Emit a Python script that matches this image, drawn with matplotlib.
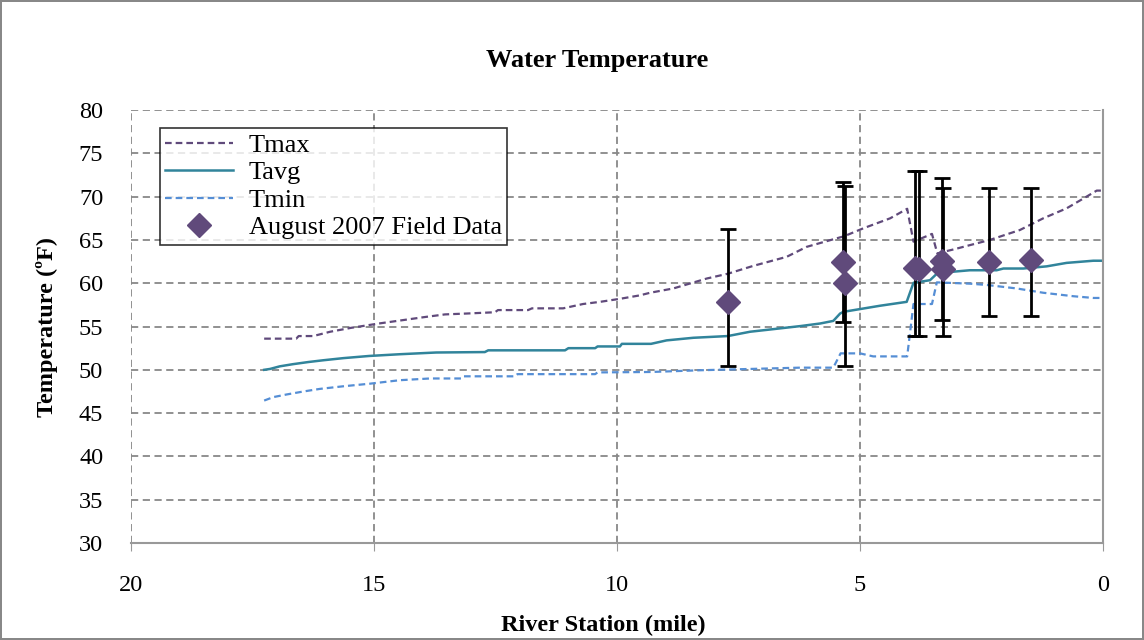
import numpy as np
import matplotlib.pyplot as plt

plt.rcParams['font.family'] = ['Liberation Serif', 'DejaVu Serif']

# model profiles: river station (mile) vs temperature (F)
tmax_mile = [17.26, 16.6, 16.55, 16.25, 15.9, 15.47, 14.9, 14.33, 13.95, 13.54, 13.1, 12.51,
             12.45, 11.83, 11.75, 11.11, 10.7, 10.35, 9.94, 9.53, 9.32, 8.84, 8.15, 7.72, 7.2,
             6.51, 6.1, 5.41, 5.34, 4.93, 4.38, 4.03, 3.9, 3.52, 3.41, 3.08, 2.74, 2.33, 1.71,
             1.23, 0.75, 0.34, 0.13, 0.0]
tmax_val = [53.6, 53.6, 53.9, 53.9, 54.4, 54.85, 55.35, 55.8, 56.1, 56.4, 56.5, 56.65,
            56.9, 56.9, 57.1, 57.1, 57.6, 57.85, 58.2, 58.6, 58.9, 59.4, 60.55, 61.1, 62.0,
            63.05, 64.2, 65.3, 65.4, 66.35, 67.5, 68.6, 64.8, 65.7, 63.45, 63.9, 64.4, 65.0, 66.15,
            67.5, 68.65, 70.0, 70.7, 70.7]

tavg_mile = [17.26, 17.14, 16.94, 16.67, 16.35, 16.05, 15.63, 15.1, 14.47, 13.72, 12.72, 12.65,
             11.07, 11.0, 10.45, 10.4, 9.94, 9.9, 9.3, 8.98, 8.43, 7.72, 7.26, 6.78, 6.23, 5.82,
             5.55, 5.41, 5.34, 5.07, 4.59, 4.04, 3.9, 3.56, 3.42, 3.15, 2.74, 2.19, 2.05, 1.64,
             1.16, 0.75, 0.2, 0.0]
tavg_val = [50.0, 50.1, 50.4, 50.65, 50.9, 51.1, 51.35, 51.6, 51.8, 52.0, 52.05, 52.25,
            52.25, 52.5, 52.5, 52.7, 52.7, 53.0, 53.0, 53.4, 53.7, 53.9, 54.4, 54.7, 55.05, 55.35,
            55.65, 56.5, 56.7, 56.95, 57.4, 57.85, 60.05, 60.35, 61.1, 61.3, 61.5, 61.5, 61.7, 61.7,
            61.95, 62.35, 62.6, 62.6]

tmin_mile = [17.26, 17.07, 16.8, 16.45, 16.11, 15.63, 15.08, 14.47, 13.85, 13.2, 13.16, 12.1,
             12.05, 10.45, 10.4, 9.3, 8.29, 6.23, 5.55, 5.4, 5.0, 4.73, 4.03, 3.9, 3.52, 3.42,
             2.74, 2.39, 1.78, 1.23, 0.61, 0.2, 0.0]
tmin_val = [46.45, 46.85, 47.15, 47.5, 47.8, 48.1, 48.4, 48.8, 49.0, 49.0, 49.25, 49.25,
            49.5, 49.5, 49.7, 49.75, 49.95, 50.25, 50.25, 51.9, 51.9, 51.55, 51.55, 57.6, 57.6, 60.1,
            59.95, 59.8, 59.4, 58.9, 58.5, 58.3, 58.3]

# August 2007 field data with min/max range
field_mile = [7.72, 5.35, 5.31, 3.87, 3.79, 3.32, 3.29, 2.34, 1.48]
field_val = [57.85, 62.5, 60.05, 61.8, 61.7, 62.55, 61.6, 62.4, 62.7]
field_lo = [50.4, 55.5, 50.4, 53.9, 53.9, 55.7, 53.9, 56.2, 56.2]
field_hi = [66.3, 71.7, 71.2, 73.0, 73.0, 72.1, 71.0, 71.0, 71.0]

fig = plt.figure(figsize=(11.44, 6.4), dpi=100, linewidth=1.5, edgecolor='#888888')
ax = fig.add_axes([0.1145, 0.1516, 0.8497, 0.6764])

ax.plot(tmax_mile, tmax_val, color='#604A7B', lw=1.6, dashes=(3, 1.8), label='Tmax')
ax.plot(tavg_mile, tavg_val, color='#31849B', lw=1.8, label='Tavg')
ax.plot(tmin_mile, tmin_val, color='#558ED5', lw=1.6, dashes=(3, 1.8), label='Tmin')

fv = np.array(field_val)
yerr = [fv - np.array(field_lo), np.array(field_hi) - fv]
ax.errorbar(field_mile, field_val, yerr=yerr, fmt='none', ecolor='black',
            elinewidth=2, capsize=5.5, capthick=2, zorder=3)
ax.plot(field_mile, field_val, 'D', color='#604A7B', ms=12, ls='none', zorder=4,
        label='August 2007 Field Data')

ax.set_xlim(20, 0)
ax.set_ylim(30, 80)
ax.set_xticks(np.arange(0, 21, 5))
ax.set_yticks(np.arange(30, 81, 5))
ax.grid(True, color='#888888', ls='--', lw=1.3, dashes=(4, 2.5))
ax.set_axisbelow(True)

for s in ['left', 'top']:
    ax.spines[s].set_visible(False)
for s in ['bottom', 'right']:
    ax.spines[s].set_color('#999999')
    ax.spines[s].set_linewidth(1.5)

ax.tick_params(axis='y', length=0, pad=20, labelsize=17.5)
ax.tick_params(axis='x', length=6, color='#999999', pad=17, labelsize=17.5)

fig.text(597 / 1144, 1 - 60 / 640, 'Water Temperature', fontsize=19, fontweight='bold',
         ha='center', va='center')
ax.set_xlabel('River Station (mile)', fontsize=17.5, fontweight='bold')
ax.xaxis.set_label_coords(0.486, -0.165)
ax.set_ylabel('Temperature (ºF)', fontsize=17.5, fontweight='bold')
ax.yaxis.set_label_coords(-0.075, 0.5)

leg = ax.legend(loc='upper left', bbox_to_anchor=(0.03, 0.958), fontsize=19,
                frameon=True, fancybox=False, edgecolor='black', handlelength=2.55,
                labelspacing=0.15, borderpad=0.2, handletextpad=0.6, borderaxespad=0)
leg.get_frame().set_linewidth(1.2)

fig.savefig('out.png', dpi=100, edgecolor=fig.get_edgecolor())
